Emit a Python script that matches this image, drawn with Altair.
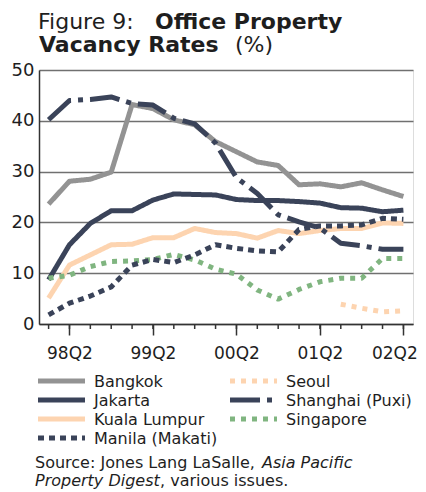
import altair as alt
import pandas as pd

quarters = ["98Q1", "98Q2", "98Q3", "98Q4", "99Q1", "99Q2", "99Q3", "99Q4",
            "00Q1", "00Q2", "00Q3", "00Q4", "01Q1", "01Q2", "01Q3", "01Q4",
            "02Q1", "02Q2"]
tick_labels = ["98Q2", "99Q2", "00Q2", "01Q2", "02Q2"]

bangkok = [23.6, 28.1, 28.5, 29.9, 43.2, 42.4, 40.2, 39.2, 35.9, 33.9, 31.9, 31.2,
           27.4, 27.6, 27.0, 27.8, 26.4, 25.1]
jakarta = [8.7, 15.6, 19.8, 22.3, 22.3, 24.4, 25.6, 25.5, 25.4, 24.5, 24.3, 24.3,
           24.1, 23.8, 22.9, 22.8, 22.1, 22.4]
kuala_lumpur = [5.1, 11.6, 13.6, 15.6, 15.7, 17.0, 17.0, 18.8, 18.0, 17.8, 16.9, 18.4,
                17.8, 18.4, 18.8, 18.8, 19.9, 19.8]
manila = [1.8, 4.1, 5.5, 7.3, 11.6, 12.7, 12.1, 13.6, 15.6, 14.9, 14.4, 14.2,
          18.6, 19.3, 19.3, 19.5, 20.8, 20.6]
seoul = [None] * 14 + [3.9, 3.1, 2.4, 2.6]
shanghai = [40.2, 44.0, 44.2, 44.7, 43.4, 43.1, 40.5, 39.4, 35.6, 28.8, 25.7, 21.5,
            20.1, 18.9, 15.9, 15.4, 14.7, 14.7]
singapore = [9.0, 9.6, 11.3, 12.3, 12.4, 12.7, 13.7, 12.6, 10.8, 9.8, 6.7, 4.9,
             6.8, 8.3, 9.0, 9.0, 12.9, 12.9]

# drawing order (first drawn at the bottom)
series = {
    "Bangkok": bangkok,
    "Kuala Lumpur": kuala_lumpur,
    "Seoul": seoul,
    "Jakarta": jakarta,
    "Singapore": singapore,
    "Manila (Makati)": manila,
    "Shanghai (Puxi)": shanghai,
}

cities = ["Bangkok", "Jakarta", "Kuala Lumpur", "Manila (Makati)",
          "Seoul", "Shanghai (Puxi)", "Singapore"]
GRAY = "#939393"
NAVY = "#3a4359"
PEACH = "#fdd4b0"
GREEN = "#80b580"
colors = [GRAY, NAVY, PEACH, NAVY, PEACH, NAVY, GREEN]
dashes = [[1, 0], [1, 0], [1, 0], [6, 5], [5, 6], [30, 7, 5, 7], [5, 6]]

rows = []
for k, (name, vals) in enumerate(series.items()):
    for q, v in zip(quarters, vals):
        if v is not None:
            rows.append({"quarter": q, "city": name, "value": v, "z": k})
df = pd.DataFrame(rows)

FONT = "DejaVu Sans"
TXT = "#1e1e1e"
W, H = 374, 254

x_enc = alt.X("quarter:O", scale=alt.Scale(type="point", domain=quarters, padding=0.46),
              axis=alt.Axis(values=tick_labels, title=None, labelAngle=0, tickSize=11,
                            tickColor="#333333", tickWidth=1.5, labelPadding=10,
                            labelFontSize=17, labelFont=FONT, labelColor=TXT,
                            labelOffset={"condition": {"test": "datum.value === '02Q2'",
                                                       "value": -9}, "value": 0},
                            domainColor="#333333", domainWidth=1.5, grid=False))

lines = alt.Chart(df).mark_line(strokeWidth=5, strokeJoin="round").encode(
    x=x_enc,
    y=alt.Y("value:Q", scale=alt.Scale(domain=[0, 50], nice=False),
            axis=alt.Axis(values=[0, 10, 20, 30, 40, 50], title=None, ticks=False,
                          tickSize=0, labelPadding=5, labelFontSize=18, labelFont=FONT,
                          labelColor=TXT, domainColor="#333333", domainWidth=1.5,
                          grid=True, gridColor="#707070", gridWidth=1.5)),
    color=alt.Color("city:N", scale=alt.Scale(domain=cities, range=colors), legend=None),
    strokeDash=alt.StrokeDash("city:N", scale=alt.Scale(domain=cities, range=dashes),
                              legend=None),
    detail="city:N",
    order="z:Q",
)

minor = alt.Chart(pd.DataFrame({"quarter": quarters})).mark_rule(
    color="#333333", strokeWidth=1.5).encode(
    x=alt.X("quarter:O"), y=alt.value(H), y2=alt.value(H + 5))


def txt(s, x, y, size, weight="normal", style="normal", baseline="alphabetic"):
    return alt.Chart(pd.DataFrame({"t": [s]})).mark_text(
        align="left", baseline=baseline, font=FONT, fontSize=size,
        fontWeight=weight, fontStyle=style, color=TXT).encode(
        text="t:N", x=alt.value(x), y=alt.value(y))


texts = [
    txt("Figure 9:", -1, -41, 22),
    txt("Office Property", 116, -41, 22, "bold"),
    txt("Vacancy Rates", 0, -18, 22, "bold"),
    txt("(%)", 196, -18, 22),
    txt("Source: Jones Lang LaSalle,", -4, 398, 16),
    txt("Asia Pacific", 223, 398, 16, style="italic"),
    txt("Property Digest", -4, 416, 16, style="italic"),
    txt(", various issues.", 121, 416, 16),
]

# custom two-column legend (column-major)
legend_layers = []
row_y = [311, 330, 349, 368]
col_x = [-1, 191]
for i, (name, c, d) in enumerate(zip(cities, colors, dashes)):
    col, row = divmod(i, 4)
    x0 = col_x[col]
    y0 = row_y[row]
    legend_layers.append(
        alt.Chart(pd.DataFrame({"t": [name]})).mark_rule(
            color=c, strokeWidth=5, strokeDash=d).encode(
            x=alt.value(x0), x2=alt.value(x0 + 47), y=alt.value(y0)))
    legend_layers.append(txt(name, x0 + 56, y0 + 1, 16, baseline="middle"))

chart = alt.layer(lines, minor, *texts, *legend_layers).properties(
    width=W, height=H,
    autosize=alt.AutoSizeParams(type="none"),
    padding={"left": 31, "top": 62, "right": 5, "bottom": 168},
).configure_view(stroke="#333333", strokeWidth=1.5).configure(background="white")

chart.save("out.html", embed_options={"renderer": "svg", "actions": False})
